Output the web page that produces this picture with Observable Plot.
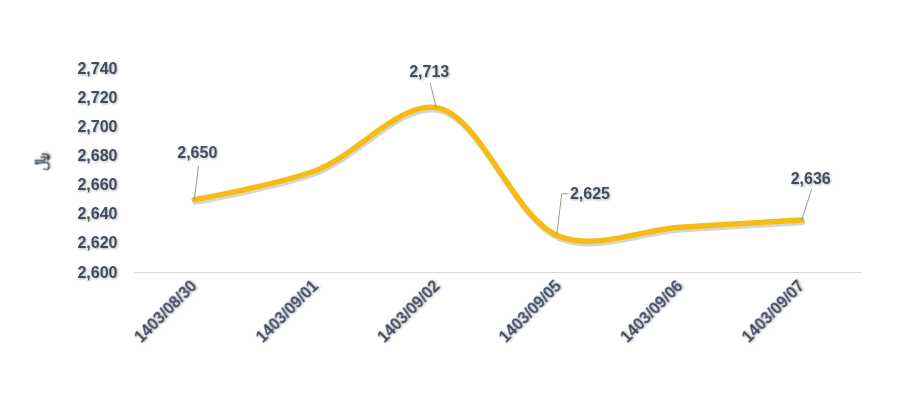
<!DOCTYPE html>
<html><head><meta charset="utf-8">
<script src="https://cdn.jsdelivr.net/npm/d3@7"></script>
<script src="https://cdn.jsdelivr.net/npm/@observablehq/plot@0.6"></script>
<style>
body{margin:0;background:#fff;}
#chart svg text{filter:drop-shadow(1px 1px 1px rgba(0,0,0,0.3));}
</style></head><body><div id="chart"></div>
<script>
// ---- data ----
const dates = ["1403/08/30","1403/09/01","1403/09/02","1403/09/05","1403/09/06","1403/09/07"];
const prices = [2650, 2670, 2713, 2625, 2631, 2636];
const labeledIdx = [0, 2, 3, 5];
const yTicks = [2600, 2620, 2640, 2660, 2680, 2700, 2720, 2740];
const yLabel = "﷼";

// ---- styling of label leaders (offsets relative to each point: [x in category units, y in value units]) ----
const leaderStyle = {
  0: {pts: [[0, 0], [0.035, 23]], text: [0.025, 32], anchor: "middle"},
  2: {pts: [[-0.008, 0], [-0.058, 17]], text: [-0.066, 24.5], anchor: "middle"},
  3: {pts: [[-0.015, 2], [0.025, 29], [0.08, 29]], text: [0.092, 29], anchor: "start"},
  5: {pts: [[0, 0], [0.082, 21.5]], text: [0.074, 28.5], anchor: "middle"}
};

const data = dates.map((d, i) => ({i, date: d, price: prices[i]}));
const segs = [];
const labels = [];
for (const i of labeledIdx) {
  const s = leaderStyle[i];
  for (let k = 0; k < s.pts.length - 1; k++) {
    segs.push({x1: i + s.pts[k][0], y1: prices[i] + s.pts[k][1], x2: i + s.pts[k+1][0], y2: prices[i] + s.pts[k+1][1]});
  }
  labels.push({x: i + s.text[0], y: prices[i] + s.text[1], text: d3.format(",")(prices[i]), anchor: s.anchor});
}

const textColor = "#404d60";
const chart = Plot.plot({
  width: 897,
  height: 399,
  marginLeft: 133,
  marginRight: 35,
  marginTop: 68,
  marginBottom: 127,
  style: {fontFamily: "Liberation Sans, Arial, sans-serif", fontSize: "16px", fontWeight: "bold", color: textColor, background: "#fff"},
  x: {domain: [-0.5, 5.5]},
  y: {domain: [2600, 2740]},
  marks: [
    Plot.ruleY([2600], {stroke: "#d9d9d9", strokeWidth: 1}),
    Plot.axisY({ticks: yTicks, tickSize: 0, tickPadding: 16, tickFormat: d3.format(","), label: null, fill: textColor}),
    Plot.axisX({ticks: d3.range(dates.length), tickFormat: i => dates[i], tickRotate: -45, tickSize: 0, tickPadding: 11, label: null, fill: textColor}),
    Plot.text([yLabel], {frameAnchor: "left", dx: -93, rotate: -90, fill: textColor, fontSize: 16, fontFamily: "DejaVu Sans"}),
    Plot.line(data, {x: "i", y: "price", curve: "catmull-rom", stroke: "#000", strokeOpacity: 0.16, strokeWidth: 5.5, dx: 1, dy: 2.5}),
    Plot.line(data, {x: "i", y: "price", curve: "catmull-rom", stroke: "#F7BC14", strokeWidth: 5.5}),
    Plot.link(segs, {x1: "x1", y1: "y1", x2: "x2", y2: "y2", stroke: "#808080", strokeWidth: 0.8}),
    Plot.text(labels.filter(d => d.anchor === "middle"), {x: "x", y: "y", text: "text", textAnchor: "middle", fill: textColor, fontSize: 16, fontWeight: "bold"}),
    Plot.text(labels.filter(d => d.anchor === "start"), {x: "x", y: "y", text: "text", textAnchor: "start", fill: textColor, fontSize: 16, fontWeight: "bold"})
  ]
});
document.getElementById("chart").appendChild(chart);
</script></body></html>
